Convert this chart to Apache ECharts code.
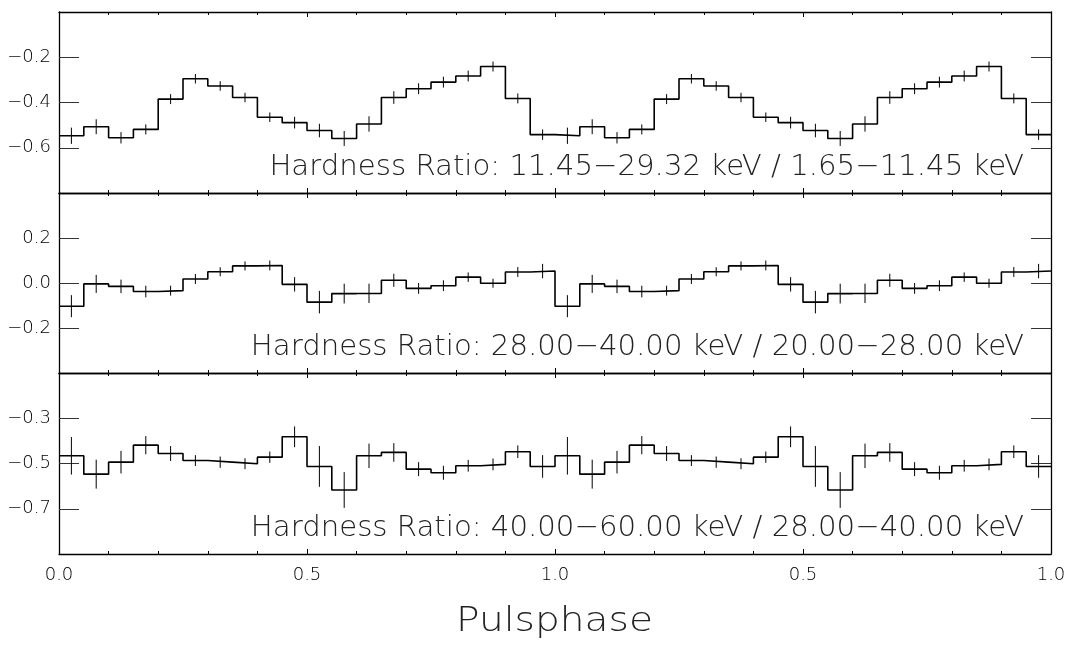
<!DOCTYPE html>
<html>
<head>
<meta charset="utf-8">
<script src="https://cdn.jsdelivr.net/npm/echarts@6/dist/echarts.min.js"></script>
<style>html,body{margin:0;padding:0;background:#fff}#c{width:1070px;height:646px}</style>
</head>
<body>
<div id="c"></div>
<script>
// Hardness ratios per phase bin (20 bins over one pulse period, shown twice)
const hr1 = [-0.547,-0.507,-0.556,-0.519,-0.385,-0.295,-0.327,-0.378,-0.465,-0.489,-0.524,-0.559,-0.495,-0.378,-0.339,-0.310,-0.283,-0.241,-0.382,-0.542];
const err1 = [0.036,0.033,0.025,0.022,0.022,0.021,0.021,0.021,0.021,0.026,0.030,0.033,0.034,0.028,0.024,0.024,0.024,0.022,0.022,0.023];
const hr2 = [-0.103,-0.004,-0.015,-0.038,-0.034,0.018,0.050,0.076,0.078,-0.006,-0.085,-0.047,-0.046,0.012,-0.024,-0.012,0.026,-0.001,0.049,0.053];
const err2 = [0.049,0.040,0.030,0.026,0.022,0.022,0.020,0.020,0.022,0.032,0.050,0.044,0.043,0.029,0.024,0.024,0.021,0.020,0.022,0.032];
const hr3 = [-0.466,-0.547,-0.494,-0.419,-0.456,-0.487,-0.494,-0.501,-0.472,-0.382,-0.513,-0.617,-0.466,-0.451,-0.525,-0.541,-0.510,-0.504,-0.448,-0.513];
const err3 = [0.083,0.064,0.050,0.040,0.033,0.024,0.025,0.024,0.025,0.046,0.090,0.079,0.054,0.041,0.031,0.031,0.026,0.026,0.028,0.050];

const panelLabels = [
  'Hardness Ratio: 11.45\u221229.32 keV / 1.65\u221211.45 keV',
  'Hardness Ratio: 28.00\u221240.00 keV / 20.00\u221228.00 keV',
  'Hardness Ratio: 40.00\u221260.00 keV / 28.00\u221240.00 keV'
];
const yRanges = [[-0.8, 0], [-0.4, 0.4], [-0.9, -0.1]];
const yTicks = [[-0.6, -0.4, -0.2], [-0.2, 0.0, 0.2], [-0.7, -0.5, -0.3]];
const xTickLabels = ['0.0', '0.5', '1.0', '0.5', '1.0'];
const xLabelValues = [0, 0.5, 1.0, 1.5, 2.0];
const xAxisTitle = 'Pulsphase';

const BIN = 0.05;
const panels = [[hr1, err1], [hr2, err2], [hr3, err3]];

const FONT = 'DejaVu Sans';
const tops = [12, 193, 373];
const heights = [181, 180, 181];
const LEFT = 59, WIDTH = 992;

function fmtNum(v) {
  const s = Math.abs(v).toFixed(1);
  return (v < -1e-9 ? '\u2212' : '') + s;
}

const grid = [], xAxis = [], yAxis = [], series = [], graphic = [];
panels.forEach(([vals, errs], g) => {
  const v2 = vals.concat(vals);
  const e2 = errs.concat(errs);
  grid.push({ left: LEFT, width: WIDTH, top: tops[g], height: heights[g], containLabel: false });
  ['bottom', 'top'].forEach((pos) => {
    xAxis.push({
      type: 'value', gridIndex: g, position: pos, min: 0, max: 2, interval: 0.5,
      axisLine: { show: true, onZero: false, lineStyle: { color: '#000', width: 1.3 } },
      axisTick: { show: true, inside: true, length: 5, lineStyle: { color: '#000', width: 1 } },
      minorTick: { show: true, splitNumber: 5, length: 3, lineStyle: { color: '#000', width: 1 } },
      splitLine: { show: false }, minorSplitLine: { show: false },
      axisLabel: {
        show: g === 2 && pos === 'bottom', margin: 12,
        fontFamily: FONT, fontWeight: 200, fontSize: 18, color: '#000',
        formatter: (v) => { const i = xLabelValues.findIndex(x => Math.abs(x - v) < 1e-6); return i >= 0 ? xTickLabels[i] : ''; }
      }
    });
  });
  ['left', 'right'].forEach((pos) => {
    yAxis.push({
      type: 'value', gridIndex: g, position: pos, min: yRanges[g][0], max: yRanges[g][1],
      axisLine: { show: true, onZero: false, lineStyle: { color: '#000', width: 1.3 } },
      axisTick: { show: true, inside: true, length: 20, customValues: yTicks[g], lineStyle: { color: '#333', width: 1 } },
      splitLine: { show: false },
      axisLabel: {
        show: pos === 'left', customValues: yTicks[g], margin: 8,
        fontFamily: FONT, fontWeight: 200, fontSize: 18, color: '#000', formatter: fmtNum
      }
    });
  });
  const stepPts = v2.map((v, i) => [i * BIN, v]);
  stepPts.push([v2.length * BIN, v2[v2.length - 1]]);
  series.push({
    type: 'line', xAxisIndex: 2 * g, yAxisIndex: 2 * g, step: 'end', data: stepPts,
    showSymbol: false, symbol: 'none', animation: false, silent: true,
    lineStyle: { color: '#000', width: 1.6 }
  });
  series.push({
    type: 'custom', xAxisIndex: 2 * g, yAxisIndex: 2 * g, animation: false, silent: true,
    data: v2.map((v, i) => [(i + 0.5) * BIN, v, e2[i]]),
    renderItem: (params, api) => {
      const x = api.value(0), y = api.value(1), e = api.value(2);
      const p1 = api.coord([x, y - e]);
      const p2 = api.coord([x, y + e]);
      return { type: 'line', shape: { x1: p1[0], y1: p1[1], x2: p2[0], y2: p2[1] }, style: { stroke: '#000', lineWidth: 1 } };
    }
  });
  graphic.push({
    type: 'text', x: 1024, y: tops[g] + heights[g] - 26, silent: true,
    style: { text: panelLabels[g], align: 'right', verticalAlign: 'middle', font: '200 29.2px "' + FONT + '"', fill: '#222' }
  });
});
graphic.push({
  type: 'text', x: 554.5, y: 622, scaleX: 1.15, silent: true,
  style: { text: xAxisTitle, align: 'center', verticalAlign: 'middle', font: '200 34px "' + FONT + '"', fill: '#222' }
});

const chart = echarts.init(document.getElementById('c'), null, { renderer: 'canvas' });
chart.setOption({ animation: false, backgroundColor: '#fff', grid, xAxis, yAxis, series, graphic });
</script>
</body>
</html>
